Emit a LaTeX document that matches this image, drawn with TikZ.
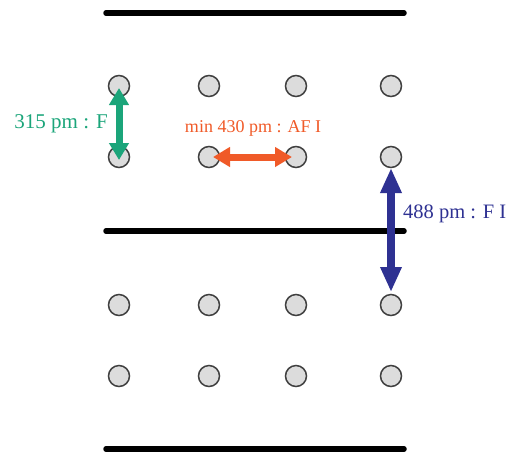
\documentclass[tikz,border=0pt]{standalone}
\usepackage{fontspec}
\setmainfont{Liberation Serif}
\usetikzlibrary{positioning,arrows.meta}

\definecolor{bondgreen}{HTML}{1BA57A}
\definecolor{bondorange}{HTML}{F05A28}
\definecolor{bondblue}{HTML}{2E3192}
\definecolor{atomgray}{HTML}{DCDCDC}

\begin{document}
\begin{tikzpicture}[
    x=1pt, y=-1pt,
    atom/.style={
        circle,
        draw=black!75,
        fill=atomgray,
        line width=1.5pt,
        inner sep=0pt,
        minimum size=21pt
    },
    layer/.style={
        line width=5.5pt,
        line cap=round
    },
    bond/.style={
        line width=7pt,
        {Triangle[length=17pt,width=19pt]}-{Triangle[length=17pt,width=19pt]}
    },
    longbond/.style={
        line width=8.5pt,
        {Triangle[length=25pt,width=20pt]}-{Triangle[length=25pt,width=20pt]}
    },
    dist/.style={
        font=\fontsize{21}{23}\selectfont,
        inner sep=1pt
    }
]
\useasboundingbox (0,0) rectangle (511,451);

% Layers
\draw[layer] (106,13) -- (404,13);
\draw[layer] (106,231) -- (404,231);
\draw[layer] (106,449) -- (404,449);

% Atoms, row 1
\node[atom] (a11) at (119,86) {};
\node[atom] (a12) at (209,86) {};
\node[atom] (a13) at (296,86) {};
\node[atom] (a14) at (391,86) {};
% Atoms, row 2
\node[atom] (a21) at (119,157) {};
\node[atom] (a22) at (209,157) {};
\node[atom] (a23) at (296,157) {};
\node[atom] (a24) at (391,157) {};
% Atoms, row 3
\node[atom] (a31) at (119,305) {};
\node[atom] (a32) at (209,305) {};
\node[atom] (a33) at (296,305) {};
\node[atom] (a34) at (391,305) {};
% Atoms, row 4
\node[atom] (a41) at (119,376) {};
\node[atom] (a42) at (209,376) {};
\node[atom] (a43) at (296,376) {};
\node[atom] (a44) at (391,376) {};

% Distances
\draw[bond, draw=bondgreen, fill=bondgreen, shorten <=2pt, shorten >=-3pt] (a11.center) -- (a21.center);
\draw[bond, draw=bondorange, fill=bondorange, shorten <=4pt, shorten >=4pt] (a22.center) -- (a23.center);
\draw[longbond, draw=bondblue, fill=bondblue, shorten <=11pt, shorten >=13pt] (a24.center) -- (a34.center);

% Labels
\node[dist, text=bondgreen, anchor=east] (l_green) at (109,124) {315 pm : F};
\node[dist, text=bondorange, font=\fontsize{18}{20}\selectfont] (l_orange) at (253,128) {min 430 pm : AF I};
\node[dist, text=bondblue, anchor=west, font=\fontsize{20.5}{22}\selectfont] (l_blue) at (402,214) {488 pm : F I};

\end{tikzpicture}
\end{document}
